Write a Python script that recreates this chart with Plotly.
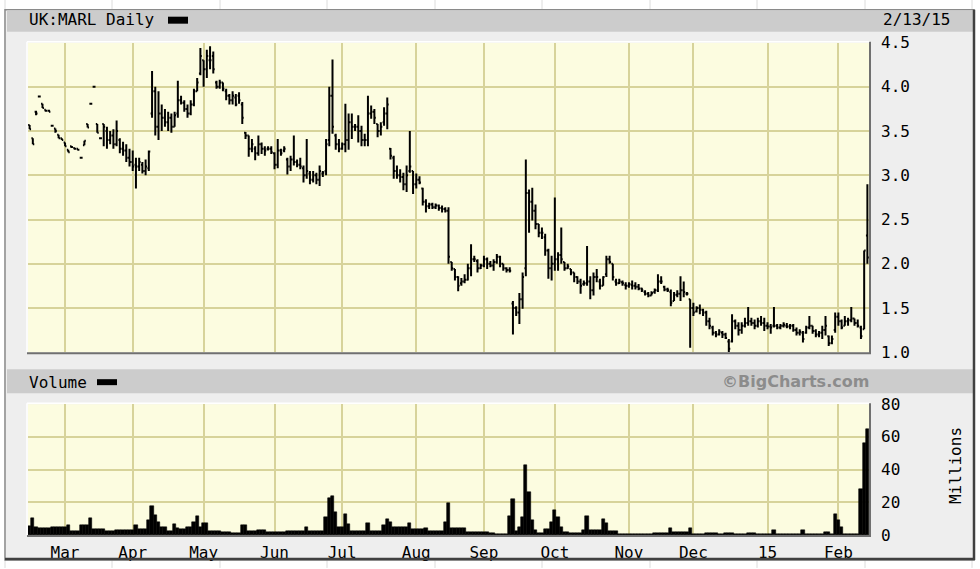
import pandas as pd
import plotly.graph_objects as go

W, H = 980, 569

# one bar per weekday, 14 Feb 2014 .. 13 Feb 2015
dates = pd.bdate_range("2014-02-14", "2015-02-13")

opens = [
    3.57, 3.42, 3.72, 3.89, 3.81, 3.74, 3.73, 3.56, 3.53, 3.46, 3.42,
    3.37, 3.29, 3.33, 3.31, 3.30, 3.20, 3.34, 3.58, 3.81, 4.00, 3.58, 3.42, 3.58, 3.50, 3.40, 3.45, 3.35, 3.40, 3.30, 3.28, 3.20,
    3.15, 3.12, 3.10, 3.12, 3.05, 3.08, 3.70, 3.95, 3.55, 3.70, 3.65, 3.60, 3.65, 3.55, 3.70, 3.85, 3.82, 3.75, 3.70, 3.80, 3.95, 4.15,
    4.30, 4.20, 4.30, 4.35, 4.05, 4.00, 4.05, 3.95, 3.90, 3.85, 3.88, 3.90, 3.80, 3.48, 3.45, 3.30, 3.30, 3.25, 3.35, 3.30, 3.30, 3.30,
    3.25, 3.12, 3.28, 3.28, 3.18, 3.10, 3.18, 3.15, 3.12, 3.08, 3.00, 3.02, 2.95, 3.00, 2.95, 3.02, 3.05, 3.40, 3.90, 3.45, 3.35,
    3.30, 3.35, 3.40, 3.60, 3.55, 3.55, 3.50, 3.40, 3.40, 3.70, 3.72, 3.58, 3.50, 3.60, 3.70, 3.30, 3.20, 3.05, 3.00, 2.98, 2.90, 3.05, 3.05,
    2.90, 2.95, 2.85, 2.70, 2.65, 2.67, 2.64, 2.66, 2.63, 2.62, 2.60, 2.02, 1.94, 1.85, 1.78, 1.80, 1.82, 1.95, 2.05, 2.03, 1.95,
    1.98, 2.05, 2.00, 1.98, 2.02, 2.08, 2.00, 1.95, 1.93, 1.55, 1.50, 1.45, 1.60, 1.95, 2.80, 2.70, 2.60, 2.45, 2.35, 2.30, 2.15, 1.95,
    2.00, 2.05, 2.10, 2.02, 1.95, 1.94, 1.90, 1.85, 1.80, 1.77, 1.78, 1.80, 1.70, 1.85, 1.80, 1.75, 1.88, 2.05, 2.00, 1.80, 1.78, 1.79, 1.76,
    1.75, 1.76, 1.75, 1.74, 1.72, 1.68, 1.66, 1.64, 1.68, 1.70, 1.80, 1.74, 1.71, 1.68, 1.58, 1.65, 1.66, 1.70, 1.66, 1.60,
    1.50, 1.46, 1.50, 1.48, 1.45, 1.35, 1.28, 1.22, 1.20, 1.22, 1.20, 1.12, 1.12, 1.35, 1.30, 1.25, 1.30, 1.33, 1.35, 1.33, 1.30, 1.35, 1.33,
    1.30, 1.29, 1.30, 1.30, 1.28, 1.30, 1.30, 1.29, 1.30, 1.25, 1.22, 1.22, 1.22, 1.28, 1.30, 1.24, 1.20, 1.22, 1.25, 1.18, 1.10, 1.25,
    1.40, 1.35, 1.30, 1.35, 1.36, 1.38, 1.33, 1.28, 1.26, 2.32,
]
highs = [
    3.57, 3.42, 3.73, 3.89, 3.81, 3.74, 3.74, 3.56, 3.53, 3.46, 3.42,
    3.37, 3.29, 3.33, 3.31, 3.30, 3.20, 3.39, 3.58, 3.81, 4.00, 3.58, 3.42, 3.58, 3.55, 3.50, 3.52, 3.62, 3.42, 3.38, 3.35, 3.30,
    3.28, 3.20, 3.20, 3.15, 3.18, 3.28, 4.18, 4.00, 3.95, 3.80, 3.75, 3.72, 3.70, 3.72, 4.07, 3.90, 3.85, 3.80, 3.85, 3.98, 4.10, 4.44,
    4.30, 4.42, 4.46, 4.40, 4.07, 4.08, 4.05, 3.98, 3.92, 3.95, 3.92, 3.94, 3.83, 3.49, 3.45, 3.41, 3.33, 3.45, 3.37, 3.33, 3.33, 3.33,
    3.26, 3.41, 3.30, 3.33, 3.20, 3.22, 3.45, 3.18, 3.20, 3.11, 3.41, 3.05, 3.05, 3.03, 3.11, 3.05, 3.41, 4.00, 4.31, 3.47, 3.41,
    3.37, 3.81, 3.70, 3.70, 3.58, 3.68, 3.56, 3.47, 3.90, 3.79, 3.75, 3.58, 3.60, 3.77, 3.88, 3.31, 3.22, 3.11, 3.07, 3.03, 3.11, 3.50, 3.05,
    3.02, 2.99, 2.86, 2.73, 2.69, 2.69, 2.68, 2.67, 2.66, 2.64, 2.64, 2.02, 1.94, 1.86, 1.84, 1.88, 2.00, 2.22, 2.09, 2.05, 2.00,
    2.09, 2.07, 2.03, 2.05, 2.11, 2.09, 2.00, 1.96, 1.96, 1.58, 1.52, 1.67, 1.90, 3.18, 2.84, 2.86, 2.67, 2.45, 2.41, 2.34, 2.17, 2.09,
    2.75, 2.13, 2.41, 2.02, 2.00, 1.94, 1.90, 1.86, 1.83, 1.81, 2.20, 1.86, 1.90, 1.94, 1.83, 1.86, 2.09, 2.09, 2.00, 1.83, 1.83, 1.81, 1.79,
    1.79, 1.81, 1.79, 1.77, 1.73, 1.70, 1.68, 1.69, 1.72, 1.88, 1.86, 1.75, 1.73, 1.71, 1.68, 1.70, 1.86, 1.80, 1.68, 1.60,
    1.56, 1.52, 1.54, 1.49, 1.47, 1.39, 1.30, 1.24, 1.26, 1.24, 1.22, 1.15, 1.43, 1.37, 1.34, 1.34, 1.39, 1.51, 1.39, 1.37, 1.39, 1.41, 1.39,
    1.34, 1.32, 1.51, 1.32, 1.32, 1.34, 1.33, 1.32, 1.32, 1.28, 1.26, 1.24, 1.30, 1.41, 1.30, 1.26, 1.24, 1.30, 1.41, 1.19, 1.19, 1.45,
    1.45, 1.37, 1.41, 1.39, 1.51, 1.38, 1.37, 1.30, 2.15, 2.90,
]
lows = [
    3.52, 3.35, 3.68, 3.89, 3.76, 3.72, 3.72, 3.56, 3.48, 3.42, 3.40,
    3.33, 3.26, 3.31, 3.29, 3.28, 3.20, 3.34, 3.54, 3.81, 4.00, 3.48, 3.42, 3.33, 3.30, 3.35, 3.30, 3.33, 3.25, 3.22, 3.15, 3.10,
    3.05, 2.85, 3.05, 3.02, 3.00, 3.05, 3.65, 3.45, 3.40, 3.50, 3.55, 3.50, 3.48, 3.55, 3.65, 3.80, 3.72, 3.65, 3.68, 3.78, 3.95, 4.13,
    4.00, 4.10, 4.20, 4.15, 3.98, 3.98, 3.95, 3.85, 3.80, 3.80, 3.78, 3.81, 3.58, 3.41, 3.21, 3.26, 3.17, 3.22, 3.24, 3.22, 3.28, 3.24,
    3.07, 3.08, 3.22, 3.26, 3.01, 3.05, 3.11, 3.09, 3.07, 2.92, 2.96, 2.90, 2.92, 2.90, 2.88, 2.98, 3.00, 3.33, 3.47, 3.29, 3.26,
    3.29, 3.26, 3.29, 3.41, 3.50, 3.37, 3.33, 3.33, 3.33, 3.64, 3.58, 3.43, 3.45, 3.56, 3.52, 3.18, 2.96, 2.96, 2.92, 2.83, 2.81, 3.03, 2.79,
    2.85, 2.90, 2.66, 2.58, 2.62, 2.62, 2.62, 2.60, 2.58, 2.58, 2.00, 1.92, 1.81, 1.69, 1.75, 1.78, 1.81, 1.86, 2.02, 1.90, 1.94,
    1.96, 1.94, 1.96, 1.92, 2.00, 1.96, 1.92, 1.90, 1.90, 1.20, 1.41, 1.32, 1.49, 1.86, 2.35, 2.49, 2.39, 2.30, 2.28, 2.09, 1.83, 1.81,
    1.92, 1.92, 2.00, 1.92, 1.94, 1.87, 1.79, 1.77, 1.66, 1.75, 1.75, 1.60, 1.64, 1.79, 1.71, 1.75, 1.85, 2.00, 1.81, 1.75, 1.77, 1.75, 1.71,
    1.73, 1.71, 1.71, 1.70, 1.68, 1.64, 1.62, 1.64, 1.66, 1.68, 1.77, 1.69, 1.68, 1.52, 1.58, 1.62, 1.58, 1.62, 1.64, 1.05,
    1.41, 1.45, 1.43, 1.41, 1.30, 1.26, 1.19, 1.17, 1.19, 1.16, 1.15, 1.00, 1.11, 1.26, 1.19, 1.21, 1.28, 1.30, 1.30, 1.26, 1.28, 1.30, 1.24,
    1.26, 1.21, 1.28, 1.26, 1.26, 1.28, 1.27, 1.26, 1.23, 1.19, 1.19, 1.11, 1.21, 1.26, 1.21, 1.17, 1.17, 1.15, 1.19, 1.07, 1.09, 1.22,
    1.30, 1.26, 1.30, 1.30, 1.34, 1.30, 1.28, 1.15, 1.26, 2.00,
]
closes = [
    3.52, 3.35, 3.70, 3.89, 3.76, 3.73, 3.72, 3.56, 3.50, 3.42, 3.40,
    3.33, 3.26, 3.32, 3.30, 3.29, 3.20, 3.39, 3.54, 3.81, 4.00, 3.48, 3.42, 3.55, 3.40, 3.45, 3.35, 3.50, 3.30, 3.28, 3.20, 3.15,
    3.10, 3.10, 3.15, 3.05, 3.10, 3.27, 3.95, 3.55, 3.70, 3.65, 3.60, 3.65, 3.55, 3.68, 3.85, 3.82, 3.75, 3.70, 3.80, 3.95, 4.05, 4.35,
    4.20, 4.35, 4.30, 4.20, 4.00, 4.05, 3.98, 3.90, 3.85, 3.90, 3.80, 3.85, 3.65, 3.45, 3.30, 3.35, 3.25, 3.35, 3.30, 3.28, 3.30, 3.26,
    3.12, 3.28, 3.25, 3.30, 3.10, 3.18, 3.15, 3.12, 3.10, 3.00, 3.05, 2.95, 3.00, 2.95, 3.05, 3.03, 3.35, 3.90, 3.55, 3.35, 3.30,
    3.35, 3.40, 3.60, 3.55, 3.55, 3.50, 3.40, 3.40, 3.70, 3.72, 3.65, 3.50, 3.55, 3.70, 3.80, 3.22, 3.05, 3.00, 2.98, 2.90, 3.00, 3.10, 2.90,
    2.95, 2.92, 2.70, 2.65, 2.67, 2.64, 2.66, 2.63, 2.62, 2.60, 2.08, 1.95, 1.85, 1.75, 1.80, 1.82, 1.95, 2.05, 2.05, 1.95, 1.98,
    2.05, 2.00, 1.98, 2.02, 2.08, 2.00, 1.95, 1.93, 1.92, 1.50, 1.45, 1.60, 1.85, 2.80, 2.70, 2.60, 2.45, 2.35, 2.35, 2.15, 1.95, 2.00,
    2.05, 2.10, 2.05, 1.95, 1.97, 1.90, 1.85, 1.80, 1.75, 1.78, 1.80, 1.70, 1.85, 1.85, 1.75, 1.85, 2.05, 2.02, 1.85, 1.78, 1.80, 1.78, 1.75,
    1.77, 1.75, 1.74, 1.72, 1.70, 1.66, 1.64, 1.67, 1.70, 1.80, 1.80, 1.71, 1.70, 1.56, 1.65, 1.66, 1.70, 1.68, 1.66, 1.50,
    1.45, 1.50, 1.48, 1.45, 1.35, 1.30, 1.22, 1.20, 1.23, 1.20, 1.16, 1.04, 1.35, 1.30, 1.25, 1.30, 1.33, 1.35, 1.33, 1.30, 1.35, 1.33, 1.30,
    1.29, 1.28, 1.30, 1.28, 1.30, 1.31, 1.29, 1.30, 1.25, 1.22, 1.23, 1.15, 1.28, 1.30, 1.24, 1.20, 1.22, 1.25, 1.30, 1.10, 1.15, 1.40,
    1.35, 1.28, 1.35, 1.36, 1.38, 1.33, 1.30, 1.18, 2.15, 2.07,
]
# volume, millions of shares
volumes = [
    5.5, 10, 5, 4, 4, 4, 4, 4.5, 4.6, 4.6, 4.6,
    4.6, 6.3, 2.5, 2.5, 2.5, 5.7, 5.7, 5.7, 10.5, 3.6, 3.6, 3.6, 3.6, 2.5, 2.5, 2.5, 3, 3, 3, 3, 3,
    3, 6.3, 3.6, 3.6, 3.6, 8.8, 17.9, 12, 8, 4.6, 4.6, 2.5, 2.5, 6.7, 4, 3.6, 3.6, 4.6, 4.6, 7.8, 11.6, 4.6,
    7.4, 7.4, 2.5, 2.5, 2.5, 2.5, 1.5, 1.5, 1.5, 1.1, 1.1, 1.1, 6.3, 6.3, 2.5, 2.5, 2.5, 3.2, 3.2, 3.2, 1.5, 1.5,
    1.5, 1.5, 1.5, 1.5, 2.5, 2.5, 2.5, 2.5, 2.5, 2.5, 4.6, 2.5, 2.5, 2.5, 2.5, 2.5, 11, 22.5, 24, 14, 4.6,
    4.6, 12.6, 6.7, 2.5, 2.5, 2.5, 2.5, 2.5, 7.4, 2.5, 2.5, 2.5, 2.5, 6, 9.5, 8, 4.6, 4.6, 4.6, 4.6, 4.6, 7.4, 3.6,
    3.6, 3.6, 3.6, 4, 2.5, 2.5, 2.5, 2.5, 2.5, 8, 19.4, 4, 4, 4, 4, 4, 2, 1.5, 1.5, 1.5, 1.5,
    1.5, 1.5, 1.3, 1.3, 0.8, 0.8, 0.8, 0.8, 11.6, 22, 2.3, 4.8, 11, 43, 26, 9, 3, 1.3, 1.3, 3.6, 3.6, 8,
    15, 11, 4.8, 1.7, 1.7, 1, 1, 1, 1, 3, 11.6, 3.2, 3.2, 3.2, 3.2, 9.5, 7, 2.3, 2.3, 2.3, 0.8, 0.8, 0.8,
    0.8, 0.8, 0.8, 0.8, 0.8, 0.8, 0.8, 0.8, 1.3, 1.3, 1.3, 1.3, 1.3, 4.4, 1.7, 1.7, 1.7, 1.7, 1.7, 4.4,
    0.8, 0.8, 0.8, 0.8, 1.3, 1.3, 1.3, 1.3, 0.8, 0.8, 1.3, 1.3, 1.3, 0.8, 0.8, 0.8, 0.8, 1.3, 1.3, 1.3, 0.7, 0.7, 0.7,
    0.7, 0.7, 3.2, 0.8, 0.8, 0.8, 0.8, 0.8, 0.8, 0.8, 0.8, 3, 0.8, 0.8, 0.8, 0.8, 0.8, 0.8, 2, 2, 0.8, 12.8,
    9, 5, 0.8, 0.8, 0.8, 0.8, 0.8, 28, 56, 65,
]

month_ticks = ["2014-03-03", "2014-04-01", "2014-05-01", "2014-06-02", "2014-07-01", "2014-08-01",
               "2014-09-01", "2014-10-01", "2014-11-03", "2014-12-01", "2015-01-01", "2015-02-02"]
month_labels = ["Mar", "Apr", "May", "Jun", "Jul", "Aug", "Sep", "Oct", "Nov", "Dec", "15", "Feb"]
price_ticks = [1.0, 1.5, 2.0, 2.5, 3.0, 3.5, 4.0, 4.5]
vol_ticks = [0, 20, 40, 60, 80]

MONO = "DejaVu Sans Mono"
GRID = "#d7d39a"
PLOT_BG = "#fcfce0"

# the captured page comes out squeezed a little vertically (offset ~9px, scale ~0.968),
# so screen rows are converted back to page rows before use
SHOT_TOP, SHOT_SCALE = 9.3, 0.968


def px(x):
    return x / W


def py(y):
    return 1 - ((y - SHOT_TOP) / SHOT_SCALE) / H


def rect(x0, y0, x1, y1, fill, line=None, lw=0, layer="below"):
    return dict(type="rect", xref="paper", yref="paper", x0=px(x0), x1=px(x1), y0=py(y1), y1=py(y0),
                fillcolor=fill, line=dict(color=line or fill, width=lw), layer=layer)


def seg(x0, y0, x1, y1, color, lw, layer="above"):
    return dict(type="line", xref="paper", yref="paper", x0=px(x0), x1=px(x1), y0=py(y0), y1=py(y1),
                line=dict(color=color, width=lw), layer=layer)


shapes = []
# spreadsheet behind the chart
for gx in [5, 112, 220, 327, 435, 542, 650, 757, 865, 972]:
    shapes.append(seg(gx, 0, gx, H, "#dcdcdc", 1, "below"))
# chart panel
shapes.append(rect(5, 10, 974, 561, "#eeeeee", "#8a8a8a", 1.5))
shapes.append(rect(7, 10.5, 973, 32, "#cccccc"))
shapes.append(rect(7, 370, 973, 394, "#cccccc"))
shapes.append(rect(28, 43, 869, 353, PLOT_BG))
shapes.append(rect(28, 405, 869, 536, PLOT_BG))
# bevels
shapes.append(seg(974, 10, 974, 561, "#404040", 2.5))
shapes.append(seg(5, 560, 975, 560, "#404040", 2.5))
for top, bot in [(43, 353), (405, 536)]:
    shapes.append(seg(27, top - 1, 870, top - 1, "#ffffff", 1.5))
    shapes.append(seg(27, top - 1, 27, bot, "#ffffff", 1.5))
    shapes.append(seg(27, bot + 1, 871, bot + 1, "#707070", 2))
    shapes.append(seg(870, top - 1, 870, bot + 1, "#707070", 2))
# legend swatches
shapes.append(rect(168, 17, 188, 24, "#000000", layer="above"))
shapes.append(rect(97, 380, 117, 386, "#000000", layer="above"))


def note(text, x, y, anchor="left", size=16, color="#000000", family=MONO, angle=0, bold=False):
    return dict(text=f"<b>{text}</b>" if bold else text, xref="paper", yref="paper", x=px(x), y=py(y),
                xanchor=anchor, yanchor="middle", showarrow=False, textangle=angle,
                font=dict(family=family, size=size, color=color))


annotations = [
    note("UK:MARL Daily", 27, 20),
    note("2/13/15", 881, 20),
    note("Volume", 27, 383),
    note("©BigCharts.com", 871, 382, anchor="right", size=16, color="#8c8c8c",
         family="DejaVu Sans", bold=True),
    note("Millions", 955, 467, anchor="center", angle=-90),
]

fig = go.Figure()
fig.add_trace(go.Ohlc(
    x=dates, open=opens, high=highs, low=lows, close=closes,
    increasing_line_color="black", decreasing_line_color="black",
    line_width=2, tickwidth=0.45, hoverinfo="skip", showlegend=False,
    xaxis="x", yaxis="y",
))
fig.add_trace(go.Bar(
    x=dates, y=volumes, marker_color="black", marker_line_width=0.6, marker_line_color="black",
    hoverinfo="skip", showlegend=False, xaxis="x2", yaxis="y2",
))

xdom = [px(28), px(869)]
xcommon = dict(
    domain=xdom, type="date", range=["2014-02-13 12:00", "2015-02-13 12:00"],
    rangebreaks=[dict(bounds=["sat", "mon"])],
    tickvals=month_ticks, showgrid=True, gridcolor=GRID, gridwidth=2,
    zeroline=False, showline=False, ticks="", rangeslider=dict(visible=False),
)
ycommon = dict(side="right", showgrid=True, gridcolor=GRID, gridwidth=2, zeroline=False,
               showline=False, ticks="", ticklabelstandoff=11,
               tickfont=dict(family=MONO, size=16, color="#000000"))

fig.update_layout(
    width=W, height=H, margin=dict(l=0, r=0, t=0, b=0),
    paper_bgcolor="#ffffff", plot_bgcolor="rgba(0,0,0,0)",
    bargap=0, showlegend=False,
    xaxis=dict(xcommon, anchor="y", showticklabels=False),
    xaxis2=dict(xcommon, anchor="y2", matches="x", ticktext=month_labels, showticklabels=True,
                ticklabelstandoff=6, tickfont=dict(family=MONO, size=16, color="#000000")),
    yaxis=dict(ycommon, domain=[py(353), py(43)], range=[1.0, 4.5], tickvals=price_ticks,
               ticktext=[f"{v:.1f}" for v in price_ticks], anchor="x"),
    yaxis2=dict(ycommon, domain=[py(536), py(405)], range=[0, 80], tickvals=vol_ticks, anchor="x2"),
    shapes=shapes, annotations=annotations,
)

# pin the page to exactly the figure's size, with the figure at the window's origin
page_css = ("html,body{margin:0;padding:0;width:980px;height:569px;overflow:hidden}"
            ".plotly-graph-div{position:absolute;left:0;top:0}")
fig.write_html("out.html", config={"displayModeBar": False},
               post_script="var s=document.createElement('style');s.textContent='" + page_css
                           + "';document.head.appendChild(s);")
